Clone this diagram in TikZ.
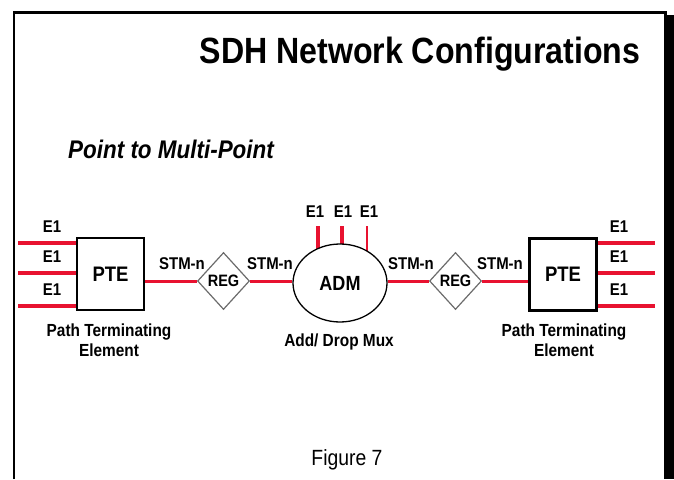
\documentclass[tikz,border=0pt]{standalone}
\usepackage{fontspec}
\setmainfont{Liberation Sans}[FakeStretch=0.88]
\usetikzlibrary{shapes.geometric,backgrounds}
\definecolor{linkred}{RGB}{232,18,48}

\begin{document}
\begin{tikzpicture}[x=1pt,y=-1pt,
    heading/.style={font=\fontsize{36.5}{40}\selectfont\bfseries, inner sep=0pt, anchor=base},
    subheading/.style={font=\fontsize{25.5}{28}\selectfont\bfseries\itshape, inner sep=0pt, anchor=base west},
    ptebox/.style={draw, line width=2.5pt, minimum width=67pt, minimum height=72pt, inner sep=0pt, font=\fontsize{21}{24}\selectfont\bfseries},
    regbox/.style={diamond, draw=gray!85!black, line width=1.2pt, fill=white, minimum width=52pt, minimum height=57pt, inner sep=0pt, font=\fontsize{16.5}{18}\selectfont\bfseries},
    admbox/.style={ellipse, draw, line width=1.3pt, fill=white, minimum width=94pt, minimum height=78pt, inner sep=0pt, font=\fontsize{20.5}{23}\selectfont\bfseries},
    tributary/.style={draw=linkred, line width=4pt},
    aggregate/.style={draw=linkred, line width=3pt},
    lbl/.style={font=\fontsize{17}{19}\selectfont\bfseries, inner sep=0pt},
    note/.style={font=\fontsize{17.5}{20}\selectfont\bfseries, align=center, inner sep=0pt}]
    \useasboundingbox (0,0) rectangle (674,479);

    % slide frame, shadow on the right
    \fill[black] (667,15) rectangle (674,479);
    \draw[line width=2.5pt] (14,479) -- (14,12.5) -- (665.5,12.5) -- (665.5,479);

    \node[heading] (title) at (420,63) {SDH Network Configurations};
    \node[subheading] (mode) at (68,158) {Point to Multi-Point};

    % network elements
    \node[ptebox] (pteL) at (110.5,274) {PTE};
    \node[ptebox] (pteR) at (563,274.5) {PTE};
    \node[regbox] (regL) at (223.5,281) {REG};
    \node[regbox] (regR) at (455.5,281) {REG};
    \node[admbox] (adm) at (340,283) {ADM};

    % STM-n links
    \draw[aggregate] (regL.west -| pteL.east) -- (regL.west);
    \draw[aggregate] (regL.east) -- (regL.east -| adm.west);
    \draw[aggregate] (adm.east |- regR.west) -- (regR.west);
    \draw[aggregate] (regR.east) -- (regR.east -| pteR.west);
    \node[lbl] (stm1) at (182,264) {STM-n};
    \node[lbl] (stm2) at (270,264) {STM-n};
    \node[lbl] (stm3) at (411,264) {STM-n};
    \node[lbl] (stm4) at (500,264) {STM-n};

    % E1 tributaries at both ends
    \foreach \y [count=\i] in {243,273,306} {
        \coordinate (inL\i) at (18,\y);
        \draw[tributary] (inL\i) -- (inL\i -| pteL.west);
        \node[lbl] (eL\i) at (52,\y-16) {E1};
        \coordinate (outR\i) at (655,\y);
        \draw[tributary] (outR\i -| pteR.east) -- (outR\i);
        \node[lbl] (eR\i) at (619,\y-16) {E1};
    }

    % E1 drops at the ADM
    \begin{scope}[on background layer]
        \foreach \x/\w [count=\i] in {318/4,342/4,367/2} {
            \coordinate (drop\i) at (\x,226);
            \draw[draw=linkred, line width=\w pt] (drop\i) -- (drop\i |- adm.center);
        }
    \end{scope}
    \node[lbl] (eT1) at (315,212) {E1};
    \node[lbl] (eT2) at (343,212) {E1};
    \node[lbl] (eT3) at (369,212) {E1};

    \node[note] (pteLnote) at (109,340) {Path Terminating\\Element};
    \node[note] (pteRnote) at (564,340) {Path Terminating\\Element};
    \node[note] (admnote) at (339,342) {Add/ Drop Mux};

    \node[font=\fontsize{22}{24}\selectfont, inner sep=0pt] (fig) at (347,460) {Figure 7};
\end{tikzpicture}
\end{document}
